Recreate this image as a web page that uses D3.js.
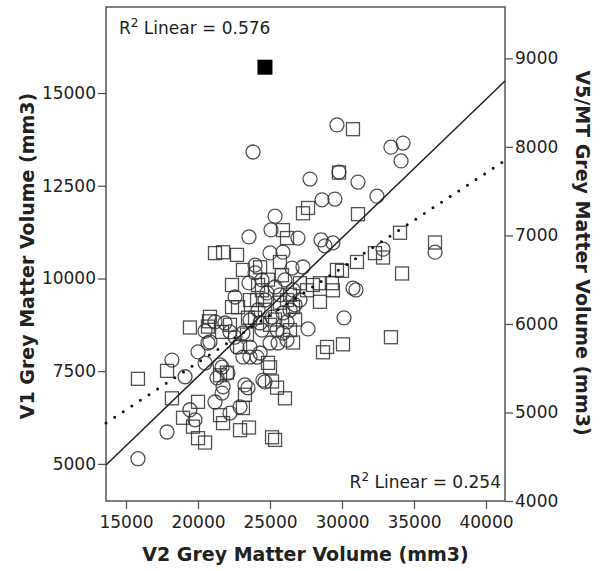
<!DOCTYPE html>
<html>
<head>
<meta charset="utf-8">
<script src="https://cdn.jsdelivr.net/npm/d3@7"></script>
<style>
  body { margin: 0; background: #fff; }
  svg text { font-family: "DejaVu Sans", sans-serif; fill: #222; }
</style>
</head>
<body>
<div id="chart"></div>
<script>
// V2 vs V1 (circles, left axis)
var circleV2 = [15830,17850,18190,19100,20000,20490,20830,20490,19440,19790,21180,21670,22220,22920,23260,24510,21530,20690,21180,21870,22220,22570,23120,24310,23610,22710,23120,23610,21670,22080,21320,24100,24310,25000,25560,25490,25900,26180,27640,24650,23470,21740,22570,23540,24440,24790,25350,26390,25140,25900,25000,25900,26940,23820,25350,23540,25070,29650,33400,34240,34100,29790,27780,31110,28610,29510,32430,28540,28820,32850,36460,30760,30970,30140,27290,29370,24650,25690,26600,24170,26180,27080,23960,26530,23960,26040,26740,24440,23610];
var circleV1 = [5140,5860,7800,7350,8020,8580,8290,7720,6460,6190,6670,6910,6370,6540,7130,7260,7670,8260,8830,8800,8560,8420,8530,8800,8150,8150,7880,7880,7610,7450,7320,7880,7990,8260,8260,8610,8530,8340,8640,7210,7050,7080,9500,9880,9960,9610,9770,9150,8960,9070,10690,10710,11090,13410,11680,11120,11310,14140,13540,13650,13170,12870,12680,12600,12120,12140,12220,11040,10880,10790,10710,9740,9690,8940,10310,10960,9420,9560,9690,9150,8830,9420,10360,10280,10150,9960,9290,8610,8880];

// V2 vs V5/MT (squares, right axis)
var squareV2 = [15830,17850,18190,19440,20760,20000,18960,19650,20000,20490,21530,21740,22920,23540,23120,23260,25000,25490,26040,25140,25350,21530,21180,21740,22710,27290,27640,25900,26180,25690,24310,23120,22360,22360,22780,23610,24100,25690,26180,26600,28470,29300,29370,27570,28470,28960,28680,30070,33400,30000,29650,31040,32290,32850,34030,34170,36460,31110,29790,30760,20830,20690,21670,22220,23400,22920,22010,26600,24860,25140,24650,25350,26740,24440,27080,24860,23960,26390,27980,24170,26390,25000,23470,25830];
var squareV5 = [5380,5470,5160,5960,6030,5120,4940,4840,4710,4660,4970,4880,4800,4830,5050,5200,5510,5280,5160,4720,4690,5420,6800,6810,6780,7250,7310,7060,6970,6700,6640,6610,6440,6190,6190,6270,6270,6240,6270,6190,6460,6460,6380,6380,6250,5740,5680,5770,5850,6600,6610,6700,6800,6750,7030,6570,6920,7240,7710,8200,6080,5970,5910,5990,5880,5740,5450,5790,5560,5350,6160,6050,6050,6380,6460,6500,6070,5930,6440,6440,6330,5990,6070,6550];

// highlighted case (filled square)
var outlierV2 = [24650];
var outlierV5 = [8900];

// linear fits [intercept, slope]
var fitV1 = [-116, 0.3737];
var fitV5 = [3425, 0.107];
var r2Labels = ["0.576", "0.254"];

var xTicks = [15000, 20000, 25000, 30000, 35000, 40000];
var leftTicks = [5000, 7500, 10000, 12500, 15000];
var rightTicks = [4000, 5000, 6000, 7000, 8000, 9000];

var W = 601, H = 571;
var L = 106, T = 7, R = 505, B = 501;

var svg = d3.select("#chart").append("svg")
  .attr("width", W)
  .attr("height", H);

var x = d3.scaleLinear().domain([13610, 41320]).range([L, R]);
var yL = d3.scaleLinear().domain([4000, 17320]).range([B, T]);
var yR = d3.scaleLinear().domain([4000, 9580]).range([B, T]);

// frame
svg.append("rect")
  .attr("x", L).attr("y", T)
  .attr("width", R - L).attr("height", B - T)
  .attr("fill", "none")
  .attr("stroke", "#555")
  .attr("stroke-width", 1.5);

function styleAxis(g) {
  g.select(".domain").remove();
  g.selectAll(".tick line").attr("stroke", "#555").attr("stroke-width", 1.3);
  g.selectAll(".tick text").style("font-size", "17px").attr("fill", "#222");
}

svg.append("g")
  .attr("transform", "translate(0," + B + ")")
  .call(d3.axisBottom(x).tickValues(xTicks).tickFormat(d3.format("d")).tickSize(8).tickPadding(7))
  .call(styleAxis);

svg.append("g")
  .attr("transform", "translate(" + L + ",0)")
  .call(d3.axisLeft(yL).tickValues(leftTicks).tickFormat(d3.format("d")).tickSize(8).tickPadding(2))
  .call(styleAxis);

svg.append("g")
  .attr("transform", "translate(" + R + ",0)")
  .call(d3.axisRight(yR).tickValues(rightTicks).tickFormat(d3.format("d")).tickSize(8).tickPadding(2))
  .call(styleAxis);

var plot = svg.append("g");

// squares
var side = 13;
plot.selectAll("rect.sq")
  .data(d3.range(squareV2.length))
  .enter().append("rect")
  .attr("class", "sq")
  .attr("x", function(i) { return x(squareV2[i]) - side / 2; })
  .attr("y", function(i) { return yR(squareV5[i]) - side / 2; })
  .attr("width", side).attr("height", side)
  .attr("fill", "none")
  .attr("stroke", "#333")
  .attr("stroke-width", 1.3)
  .attr("stroke-opacity", 0.85);

// circles
plot.selectAll("circle.ci")
  .data(d3.range(circleV2.length))
  .enter().append("circle")
  .attr("class", "ci")
  .attr("cx", function(i) { return x(circleV2[i]); })
  .attr("cy", function(i) { return yL(circleV1[i]); })
  .attr("r", 7)
  .attr("fill", "none")
  .attr("stroke", "#333")
  .attr("stroke-width", 1.3)
  .attr("stroke-opacity", 0.85);

// filled square
plot.selectAll("rect.out")
  .data(d3.range(outlierV2.length))
  .enter().append("rect")
  .attr("class", "out")
  .attr("x", function(i) { return x(outlierV2[i]) - 7.5; })
  .attr("y", function(i) { return yR(outlierV5[i]) - 7.5; })
  .attr("width", 15).attr("height", 15)
  .attr("fill", "#000");

// fit lines
var xd = x.domain();
var lineL = d3.line()
  .x(function(d) { return x(d); })
  .y(function(d) { return yL(fitV1[0] + fitV1[1] * d); });
var lineR = d3.line()
  .x(function(d) { return x(d); })
  .y(function(d) { return yR(fitV5[0] + fitV5[1] * d); });

plot.append("path")
  .attr("d", lineL(xd))
  .attr("fill", "none")
  .attr("stroke", "#222")
  .attr("stroke-width", 1.5);

plot.append("path")
  .attr("d", lineR(xd))
  .attr("fill", "none")
  .attr("stroke", "#111")
  .attr("stroke-width", 3)
  .attr("stroke-linecap", "round")
  .attr("stroke-dasharray", "0,10.3");

// R2 labels
function r2(xp, yp, anchor, val) {
  var t = svg.append("text")
    .attr("x", xp).attr("y", yp)
    .attr("text-anchor", anchor)
    .style("font-size", "17px");
  t.append("tspan").text("R");
  t.append("tspan").attr("dy", -7).style("font-size", "12px").text("2");
  t.append("tspan").attr("dy", 7).text("\u00a0Linear = " + val);
}
r2(119, 34, "start", r2Labels[0]);
r2(501, 488, "end", r2Labels[1]);

// axis titles
svg.append("text")
  .attr("x", (L + R) / 2).attr("y", 561)
  .attr("text-anchor", "middle")
  .style("font-size", "19px").style("font-weight", "bold")
  .text("V2 Grey Matter Volume (mm3)");

svg.append("text")
  .attr("transform", "translate(34,256) rotate(-90)")
  .attr("text-anchor", "middle")
  .style("font-size", "19px").style("font-weight", "bold")
  .text("V1 Grey Matter Volume (mm3)");

svg.append("text")
  .attr("transform", "translate(576,253) rotate(90)")
  .attr("text-anchor", "middle")
  .style("font-size", "19px").style("font-weight", "bold")
  .text("V5/MT Grey Matter Volume (mm3)");
</script>
</body>
</html>
